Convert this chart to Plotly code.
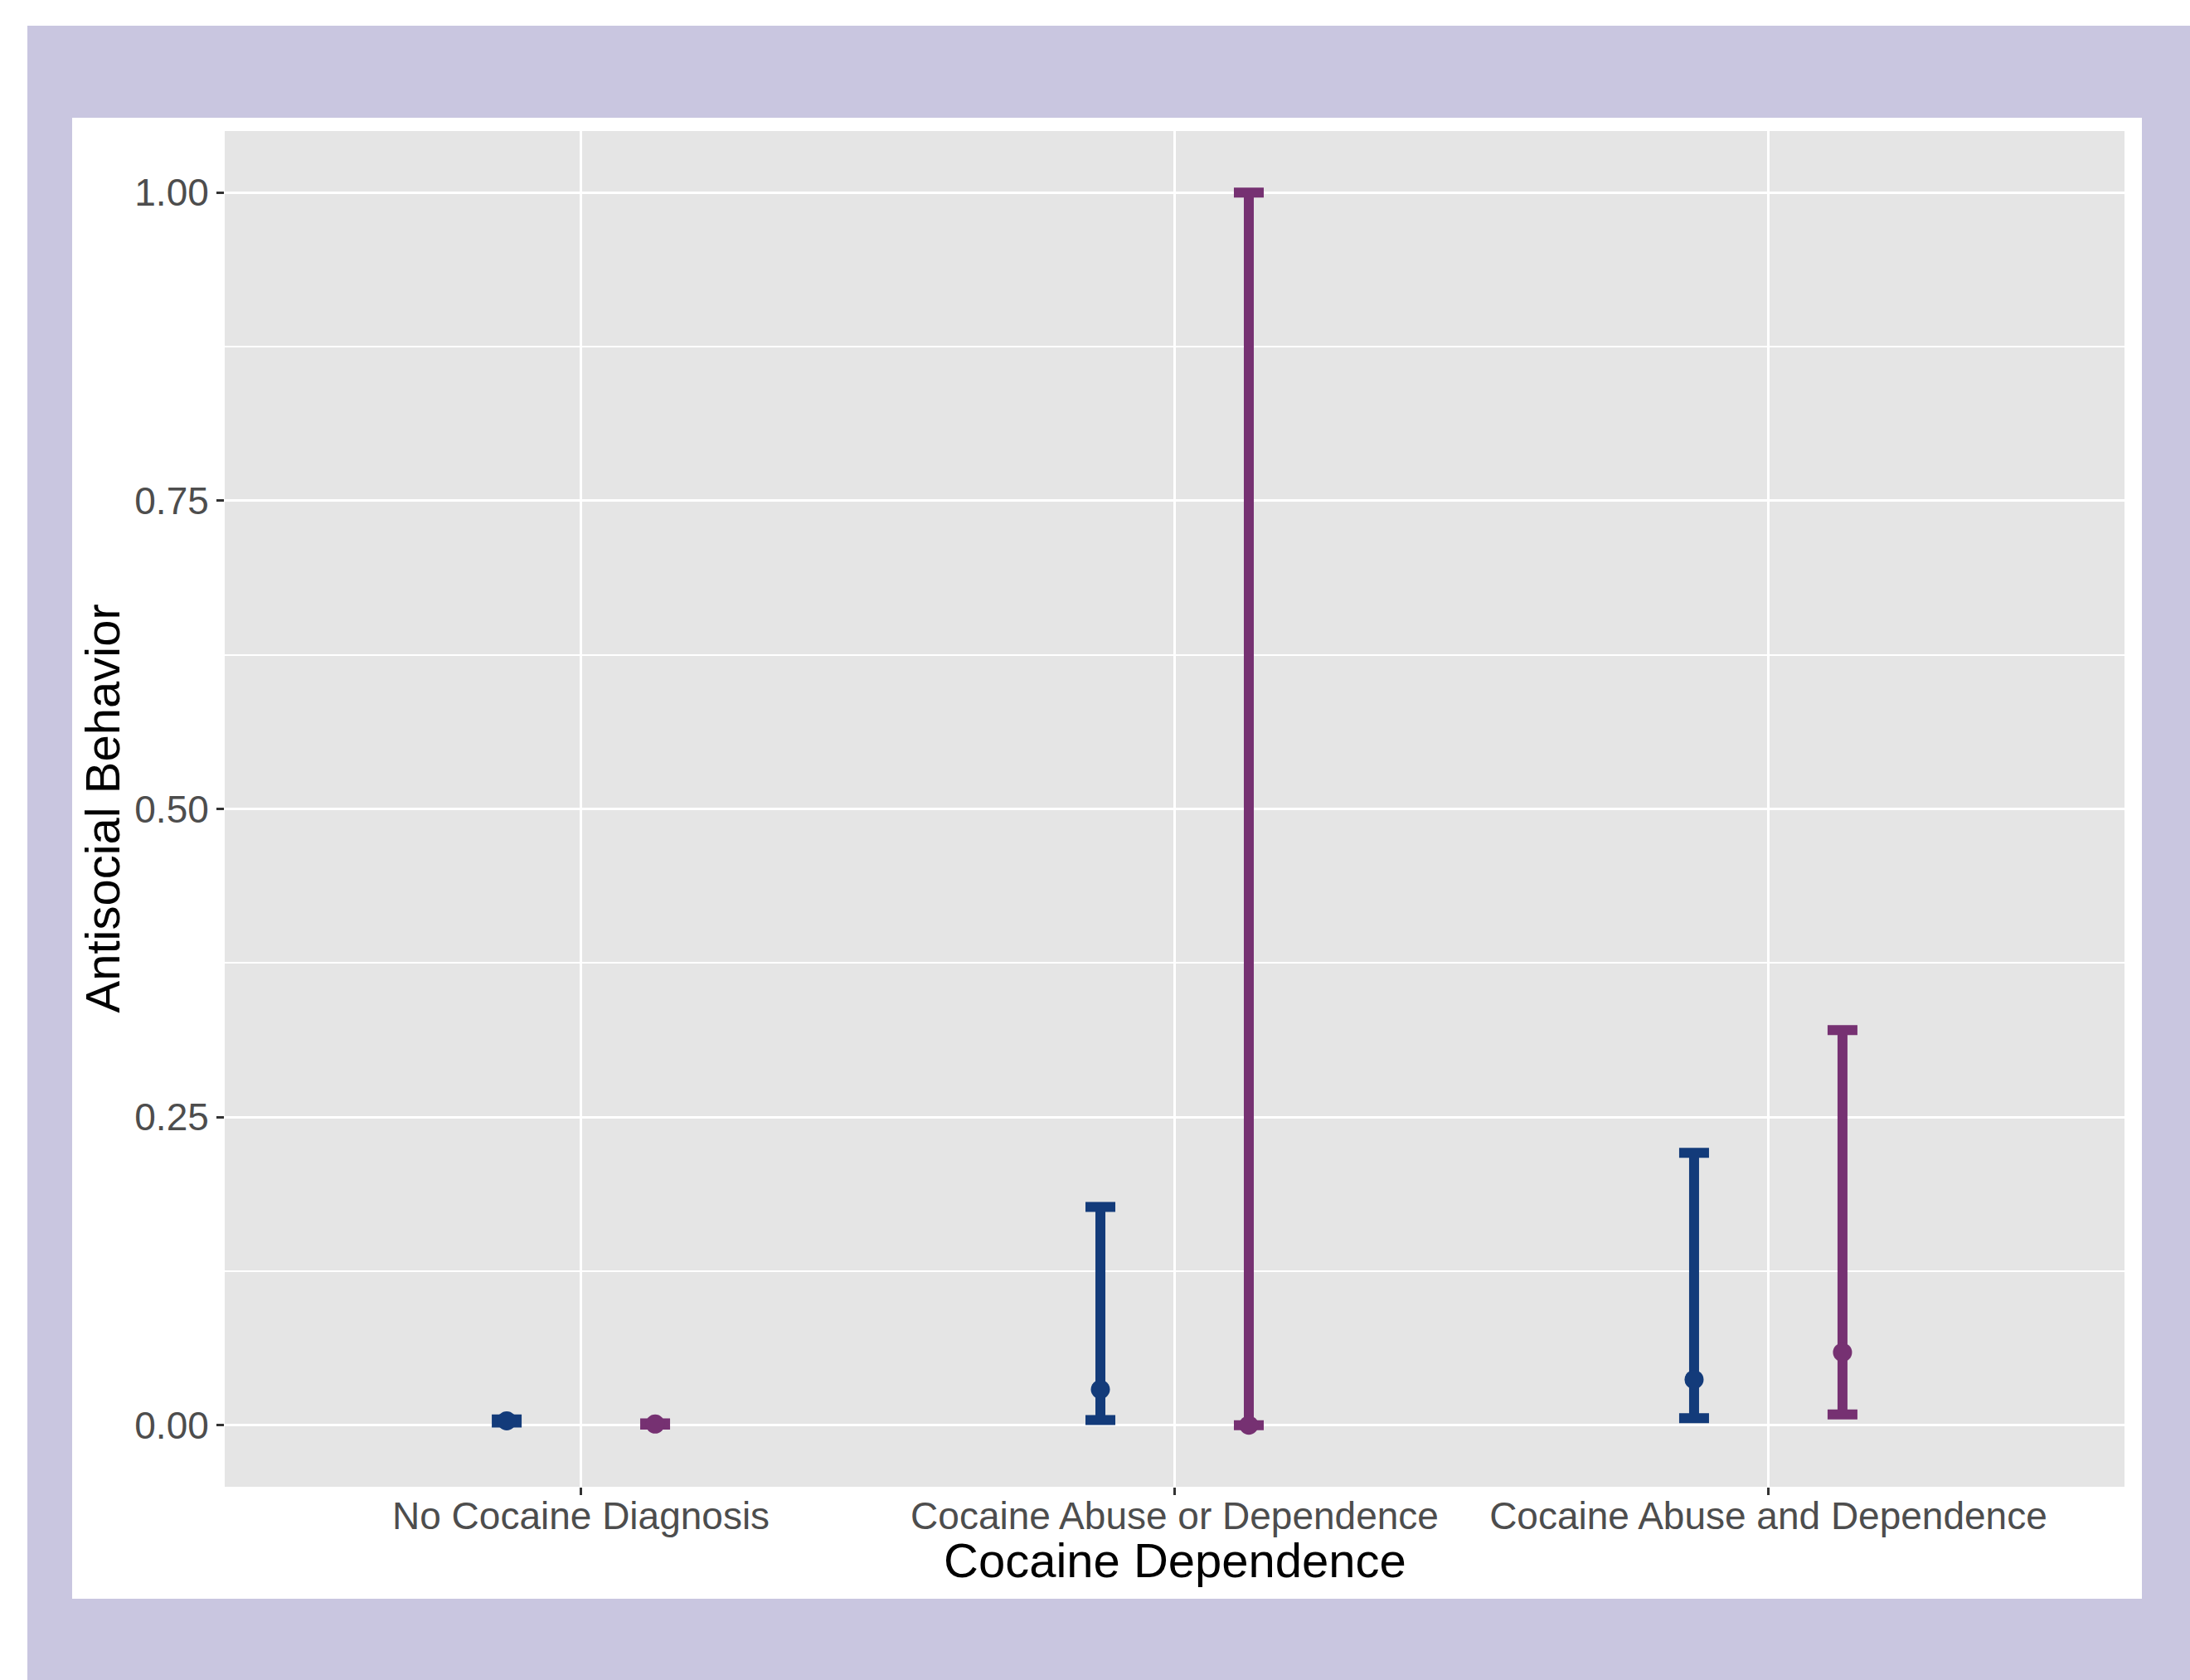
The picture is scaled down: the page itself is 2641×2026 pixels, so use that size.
import plotly.graph_objects as go

# ---- data ----
categories = ["No Cocaine Diagnosis", "Cocaine Abuse or Dependence", "Cocaine Abuse and Dependence"]
y_ticks = [0.0, 0.25, 0.5, 0.75, 1.0]
y_tick_labels = ["0.00", "0.25", "0.50", "0.75", "1.00"]

group1_mean = [0.0035, 0.029, 0.037]
group1_low = [0.0022, 0.0042, 0.0056]
group1_high = [0.0047, 0.177, 0.221]

group2_mean = [0.0009, 0.0, 0.059]
group2_low = [0.0005, 0.0, 0.0087]
group2_high = [0.0015, 1.0, 0.3205]

# ---- style ----
W, H = 2641, 2026
PL, PR, PT, PB = 271, 2562, 158, 1793  # plot area pixels
BLUE = "#133B7A"
PURPLE = "#763172"
LAVENDER = "#C9C6E0"
PANEL = "#E5E5E5"
FONT = "Liberation Sans, Arial, sans-serif"
DODGE = 0.125


def px2x(px):
    return (px - PL) / (PR - PL)


def py2y(py):
    return (PB - py) / (PB - PT)


cat_idx = list(range(1, len(categories) + 1))

fig = go.Figure()


def add_series(mean, low, high, color, offset, name):
    xs = [i + offset for i in cat_idx]
    fig.add_trace(go.Scatter(
        x=xs, y=mean, mode="markers", name=name, showlegend=False,
        marker=dict(color=color, size=23, line=dict(width=0)),
        error_y=dict(
            type="data", symmetric=False,
            array=[h - m for h, m in zip(high, mean)],
            arrayminus=[m - l for m, l in zip(mean, low)],
            color=color, thickness=12, width=18,
        ),
    ))


add_series(group1_mean, group1_low, group1_high, BLUE, -DODGE, "Group 1")
add_series(group2_mean, group2_low, group2_high, PURPLE, DODGE, "Group 2")

shapes = [
    # white strips at the top and left edge of the page
    dict(type="rect", xref="paper", yref="paper", layer="below",
         x0=px2x(0), x1=px2x(W), y0=py2y(0), y1=py2y(31),
         fillcolor="white", line=dict(width=0)),
    dict(type="rect", xref="paper", yref="paper", layer="below",
         x0=px2x(0), x1=px2x(33), y0=py2y(0), y1=py2y(H),
         fillcolor="white", line=dict(width=0)),
    # white panel
    dict(type="rect", xref="paper", yref="paper", layer="below",
         x0=px2x(87), x1=px2x(2583), y0=py2y(142), y1=py2y(1928),
         fillcolor="white", line=dict(width=0)),
    # grey plotting panel
    dict(type="rect", xref="paper", yref="paper", layer="below",
         x0=0, x1=1, y0=0, y1=1,
         fillcolor=PANEL, line=dict(width=0)),
]

annotations = [
    dict(text="Cocaine Dependence", xref="paper", yref="paper",
         x=0.5, y=py2y(1882), xanchor="center", yanchor="middle",
         showarrow=False, font=dict(family=FONT, size=58, color="black")),
    dict(text="Antisocial Behavior", xref="paper", yref="paper",
         x=px2x(123), y=0.5, xanchor="center", yanchor="middle",
         textangle=-90, showarrow=False,
         font=dict(family=FONT, size=58, color="black")),
]

fig.update_layout(
    width=W, height=H,
    paper_bgcolor=LAVENDER,
    plot_bgcolor=PANEL,
    margin=dict(l=PL, r=W - PR, t=PT, b=H - PB, pad=0),
    shapes=shapes,
    annotations=annotations,
    showlegend=False,
    font=dict(family=FONT),
)

fig.update_xaxes(
    range=[0.4, 3.6],
    tickvals=cat_idx, ticktext=categories,
    showgrid=True, gridcolor="white", gridwidth=3,
    zeroline=False, showline=False,
    ticks="outside", ticklen=9, tickwidth=2.5, tickcolor="#333333",
    ticklabelstandoff=-14,
    tickfont=dict(family=FONT, size=46, color="#4D4D4D"),
)

fig.update_yaxes(
    range=[-0.05, 1.05],
    tickvals=y_ticks, ticktext=y_tick_labels,
    showgrid=True, gridcolor="white", gridwidth=3,
    minor=dict(tickvals=[0.125, 0.375, 0.625, 0.875], showgrid=True,
               gridcolor="white", gridwidth=1.5, ticks=""),
    zeroline=False, showline=False,
    ticks="outside", ticklen=9, tickwidth=2.5, tickcolor="#333333",
    ticklabelstandoff=0,
    tickfont=dict(family=FONT, size=46, color="#4D4D4D"),
)

fig.write_html(
    "out.html",
    config=dict(displayModeBar=False),
    post_script="document.body.style.margin='0';document.body.style.overflow='hidden';",
)
